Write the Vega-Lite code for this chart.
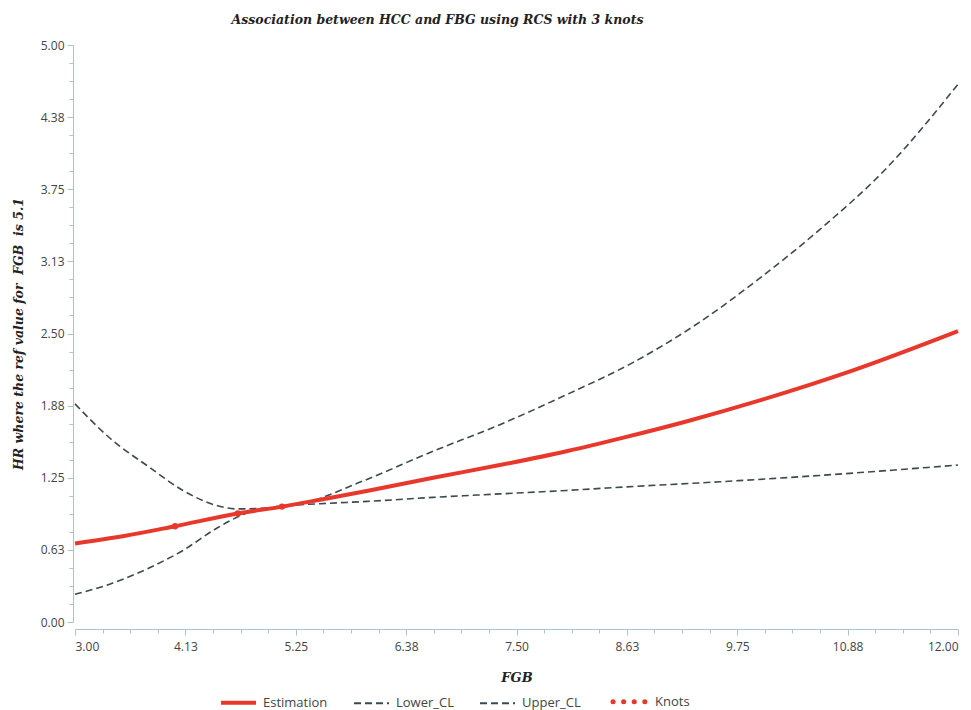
{
  "$schema": "https://vega.github.io/schema/vega-lite/v6.json",
  "width": 883,
  "height": 577,
  "autosize": {"type": "none"},
  "padding": {"left": 75, "top": 45, "right": 13, "bottom": 88},
  "background": "white",
  "title": {
    "text": "Association between HCC and FBG using RCS with 3 knots",
    "font": "DejaVu Serif",
    "fontStyle": "italic",
    "fontWeight": "bold",
    "fontSize": 12.5,
    "color": "#222222",
    "anchor": "middle",
    "dx": -79,
    "offset": 13
  },
  "config": {
    "view": {"stroke": null},
    "axis": {
      "grid": false,
      "domainColor": "#a9c2d6",
      "tickColor": "#a9c2d6",
      "labelFont": "Open Sans",
      "labelFontSize": 12,
      "labelColor": "#444444",
      "titleFont": "DejaVu Serif",
      "titleFontStyle": "italic",
      "titleFontWeight": "bold",
      "titleColor": "#222222"
    },
    "legend": {
      "labelFont": "Open Sans",
      "labelFontSize": 13,
      "labelColor": "#444444"
    }
  },
  "datasets": {
    "curves": [
      {"fgb": 3.0, "hr": 0.68, "series": "Estimation"},
      {"fgb": 3.5, "hr": 0.745, "series": "Estimation"},
      {"fgb": 4.02, "hr": 0.83, "series": "Estimation"},
      {"fgb": 4.66, "hr": 0.94, "series": "Estimation"},
      {"fgb": 5.11, "hr": 1.0, "series": "Estimation"},
      {"fgb": 5.5, "hr": 1.06, "series": "Estimation"},
      {"fgb": 6.0, "hr": 1.14, "series": "Estimation"},
      {"fgb": 6.65, "hr": 1.25, "series": "Estimation"},
      {"fgb": 7.33, "hr": 1.36, "series": "Estimation"},
      {"fgb": 8.01, "hr": 1.48, "series": "Estimation"},
      {"fgb": 8.6, "hr": 1.6, "series": "Estimation"},
      {"fgb": 9.24, "hr": 1.74, "series": "Estimation"},
      {"fgb": 9.98, "hr": 1.92, "series": "Estimation"},
      {"fgb": 10.93, "hr": 2.18, "series": "Estimation"},
      {"fgb": 12.0, "hr": 2.52, "series": "Estimation"},
      {"fgb": 3.0, "hr": 0.24, "series": "Lower_CL"},
      {"fgb": 3.36, "hr": 0.33, "series": "Lower_CL"},
      {"fgb": 3.76, "hr": 0.47, "series": "Lower_CL"},
      {"fgb": 4.1, "hr": 0.62, "series": "Lower_CL"},
      {"fgb": 4.44, "hr": 0.81, "series": "Lower_CL"},
      {"fgb": 4.71, "hr": 0.93, "series": "Lower_CL"},
      {"fgb": 5.06, "hr": 1.0, "series": "Lower_CL"},
      {"fgb": 5.5, "hr": 1.025, "series": "Lower_CL"},
      {"fgb": 5.98, "hr": 1.045, "series": "Lower_CL"},
      {"fgb": 6.65, "hr": 1.08, "series": "Lower_CL"},
      {"fgb": 7.33, "hr": 1.11, "series": "Lower_CL"},
      {"fgb": 8.01, "hr": 1.14, "series": "Lower_CL"},
      {"fgb": 8.6, "hr": 1.17, "series": "Lower_CL"},
      {"fgb": 9.57, "hr": 1.215, "series": "Lower_CL"},
      {"fgb": 10.59, "hr": 1.27, "series": "Lower_CL"},
      {"fgb": 12.0, "hr": 1.36, "series": "Lower_CL"},
      {"fgb": 3.0, "hr": 1.89, "series": "Upper_CL"},
      {"fgb": 3.36, "hr": 1.59, "series": "Upper_CL"},
      {"fgb": 3.76, "hr": 1.34, "series": "Upper_CL"},
      {"fgb": 4.1, "hr": 1.14, "series": "Upper_CL"},
      {"fgb": 4.44, "hr": 1.01, "series": "Upper_CL"},
      {"fgb": 4.65, "hr": 0.98, "series": "Upper_CL"},
      {"fgb": 5.02, "hr": 0.99, "series": "Upper_CL"},
      {"fgb": 5.29, "hr": 1.02, "series": "Upper_CL"},
      {"fgb": 5.9, "hr": 1.21, "series": "Upper_CL"},
      {"fgb": 6.65, "hr": 1.48, "series": "Upper_CL"},
      {"fgb": 7.33, "hr": 1.71, "series": "Upper_CL"},
      {"fgb": 8.01, "hr": 1.97, "series": "Upper_CL"},
      {"fgb": 8.69, "hr": 2.25, "series": "Upper_CL"},
      {"fgb": 9.37, "hr": 2.6, "series": "Upper_CL"},
      {"fgb": 9.98, "hr": 2.98, "series": "Upper_CL"},
      {"fgb": 10.59, "hr": 3.4, "series": "Upper_CL"},
      {"fgb": 11.28, "hr": 3.94, "series": "Upper_CL"},
      {"fgb": 12.0, "hr": 4.66, "series": "Upper_CL"}
    ],
    "knots": [
      {"fgb": 4.02, "hr": 0.83, "series": "Knots"},
      {"fgb": 4.66, "hr": 0.94, "series": "Knots"},
      {"fgb": 5.11, "hr": 1.0, "series": "Knots"}
    ]
  },
  "layer": [
    {
      "mark": {"type": "rule", "color": "#3cb36e", "strokeWidth": 1.6, "strokeDash": [10, 6]},
      "encoding": {
        "y": {"datum": 1, "type": "quantitative", "scale": {"domain": [0, 5]}, "axis": null}
      }
    },
    {
      "data": {"name": "curves"},
      "transform": [{"filter": "datum.series !== 'Estimation'"}],
      "mark": {"type": "line", "interpolate": "monotone", "strokeWidth": 1.6},
      "encoding": {
        "x": {
          "field": "fgb", "type": "quantitative",
          "scale": {"domain": [3, 12], "nice": false, "zero": false},
          "axis": {
            "title": "FGB", "orient": "bottom",
            "values": [3, 4.125, 5.25, 6.375, 7.5, 8.625, 9.75, 10.875, 12],
            "format": ".2f", "offset": 7, "tickSize": 6, "labelPadding": 6,
            "titleFontSize": 13, "titlePadding": 19
          }
        },
        "y": {
          "field": "hr", "type": "quantitative",
          "scale": {"domain": [0, 5], "nice": false},
          "axis": {
            "title": "HR where the ref value for \u00a0FGB \u00a0is 5.1", "orient": "left",
            "values": [0, 0.625, 1.25, 1.875, 2.5, 3.125, 3.75, 4.375, 5],
            "format": ".2f", "offset": 2, "tickSize": 6, "labelPadding": 3,
            "titleFontSize": 12.5, "titlePadding": 15
          }
        },
        "color": {
          "field": "series", "type": "nominal",
          "scale": {"domain": ["Estimation", "Lower_CL", "Upper_CL", "Knots"], "range": ["#e8382b", "#3b4a52", "#3b4a52", "#e8382b"]},
          "legend": {
            "title": null, "orient": "none", "direction": "horizontal",
            "legendX": 157, "legendY": 650,
            "symbolType": "stroke", "symbolSize": 1225, "columnPadding": 22,
            "labelOffset": 18,
            "encode": {
              "symbols": {
                "update": {
                  "strokeWidth": {"signal": "datum.value === 'Estimation' ? 4 : (datum.value === 'Knots' ? 5 : 1.8)"},
                  "strokeCap": {"signal": "datum.value === 'Knots' ? 'round' : 'butt'"}
                }
              }
            }
          }
        },
        "strokeDash": {
          "field": "series", "type": "nominal",
          "scale": {"domain": ["Estimation", "Lower_CL", "Upper_CL", "Knots"], "range": [[1, 0], [7, 4], [7, 4], [0.1, 10.5]]},
          "legend": null
        }
      }
    },
    {
      "data": {"name": "curves"},
      "transform": [{"filter": "datum.series === 'Estimation'"}],
      "mark": {"type": "line", "interpolate": "monotone", "strokeWidth": 4},
      "encoding": {
        "x": {"field": "fgb", "type": "quantitative", "axis": null},
        "y": {"field": "hr", "type": "quantitative", "axis": null},
        "color": {"field": "series", "type": "nominal"}
      }
    },
    {
      "data": {"name": "knots"},
      "mark": {"type": "point", "filled": true, "size": 40, "opacity": 1},
      "encoding": {
        "x": {
          "field": "fgb", "type": "quantitative",
          "axis": {
            "orient": "bottom", "title": null, "labels": false, "domain": false,
            "offset": 7, "tickSize": 4,
            "values": [3.28125, 3.5625, 3.84375, 4.40625, 4.6875, 4.96875, 5.53125, 5.8125, 6.09375, 6.65625, 6.9375, 7.21875, 7.78125, 8.0625, 8.34375, 8.90625, 9.1875, 9.46875, 10.03125, 10.3125, 10.59375, 11.15625, 11.4375, 11.71875]
          }
        },
        "y": {
          "field": "hr", "type": "quantitative",
          "axis": {
            "orient": "left", "title": null, "labels": false, "domain": false,
            "offset": 2, "tickSize": 4,
            "values": [0.15625, 0.3125, 0.46875, 0.78125, 0.9375, 1.09375, 1.40625, 1.5625, 1.71875, 2.03125, 2.1875, 2.34375, 2.65625, 2.8125, 2.96875, 3.28125, 3.4375, 3.59375, 3.90625, 4.0625, 4.21875, 4.53125, 4.6875, 4.84375]
          }
        },
        "color": {"field": "series", "type": "nominal"}
      }
    }
  ],
  "resolve": {"axis": {"x": "independent", "y": "independent"}}
}
